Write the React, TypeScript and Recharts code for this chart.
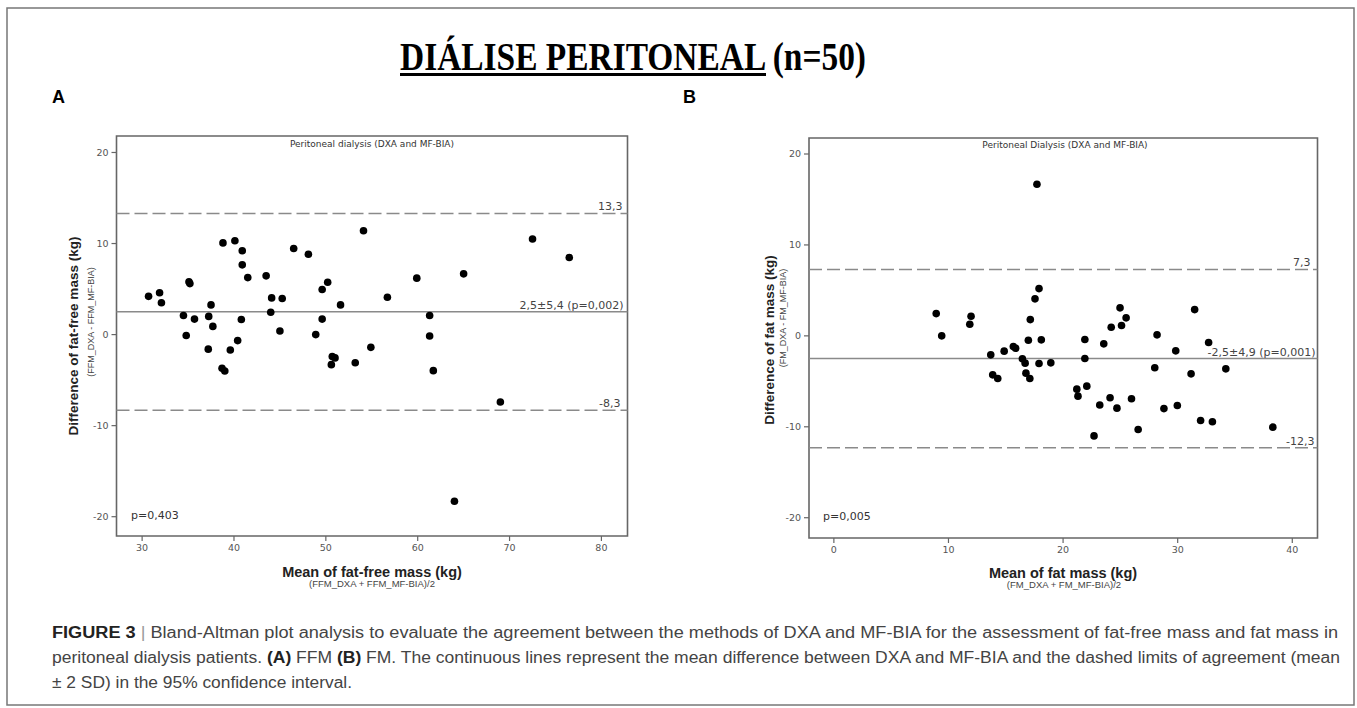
import React from "react";
import {
  ScatterChart,
  Scatter,
  XAxis,
  YAxis,
  ReferenceLine,
  ReferenceArea,
} from "recharts";

// Panel A: fat-free mass (mean of methods vs difference)
const ffmMean = [
  30.7, 31.9, 32.1, 34.5, 34.8, 35.1, 35.2, 35.7, 37.2, 37.25,
  37.5, 37.7, 38.7, 39.0, 38.8, 39.6, 40.1, 40.4, 40.8, 40.9,
  40.9, 41.5, 43.5, 44.0, 44.1, 45.0, 45.25, 46.5, 48.1, 48.9,
  49.6, 49.6, 50.2, 50.6, 50.7, 51.0, 51.6, 53.2, 54.1, 54.9,
  56.7, 59.9, 61.3, 61.3, 61.7, 65.0, 69.0, 72.5, 76.5, 64.0,
];
const ffmDiff = [
  4.2, 4.6, 3.5, 2.1, -0.1, 5.8, 5.6, 1.7, -1.6, 2.0,
  3.26, 0.9, -3.7, -4.0, 10.07, -1.7, 10.3, -0.66, 1.65, 9.2,
  7.66, 6.26, 6.45, 2.45, 4.03, 0.4, 3.96, 9.45, 8.83, 0.0,
  1.7, 4.95, 5.75, -3.3, -2.4, -2.56, 3.26, -3.1, 11.4, -1.4,
  4.1, 6.2, 2.1, -0.15, -3.96, 6.67, -7.4, 10.5, 8.46, -18.3,
];

// Panel B: fat mass
const fmMean = [
  8.93, 9.41, 11.86, 11.97, 13.69, 13.86, 14.3, 14.86, 15.66, 15.86,
  16.45, 16.69, 16.76, 16.97, 17.1, 17.14, 17.55, 17.72, 17.9, 17.9,
  18.1, 18.93, 21.2, 21.3, 21.9, 21.9, 22.07, 22.7, 23.2, 23.55,
  24.1, 24.2, 24.7, 24.97, 25.1, 25.5, 25.97, 26.55, 28.0, 28.2,
  28.8, 29.83, 29.97, 31.17, 31.48, 32.0, 32.7, 33.03, 34.2, 38.3,
];
const fmDiff = [
  2.45, 0.0, 1.28, 2.16, -2.09, -4.29, -4.69, -1.68, -1.17, -1.36,
  -2.53, -3.0, -4.1, -0.48, -4.69, 1.79, 4.07, 16.67, 5.2, -3.04,
  -0.44, -2.97, -5.86, -6.63, -0.4, -2.49, -5.53, -11.0, -7.6, -0.88,
  -6.8, 0.95, -7.95, 3.08, 1.14, 1.98, -6.92, -10.3, -3.5, 0.11,
  -8.0, -1.65, -7.66, -4.18, 2.89, -9.3, -0.73, -9.45, -3.63, -10.04,
];

const ffmXTicks = [30, 40, 50, 60, 70, 80];
const fmXTicks = [0, 10, 20, 30, 40];
const yTicks = [-20, -10, 0, 10, 20];

const ffmLines = [13.3, 2.5, -8.3];
const ffmLineLabels = ["13,3", "2,5±5,4 (p=0,002)", "-8,3"];
const fmLines = [7.3, -2.5, -12.3];
const fmLineLabels = ["7,3", "-2,5±4,9 (p=0,001)", "-12,3"];

const SPSS_FONT = "DejaVu Sans";

const lineLabel = (text: string, inset: number) => (props: any) => {
  const vb = props.viewBox || {};
  return (
    <text
      x={vb.x + vb.width - inset}
      y={vb.y - 3}
      textAnchor="end"
      fontSize={11}
      fill="#444"
      fontFamily={SPSS_FONT}
    >
      {text}
    </text>
  );
};

const dot = (p: any) => <circle cx={p.cx} cy={p.cy} r={3.8} fill="#000" />;

interface PanelProps {
  left: number;
  width: number;
  margin: { top: number; right: number; bottom: number; left: number };
  xs: number[];
  ys: number[];
  xDomain: [number, number];
  yDomain: [number, number];
  xTicks: number[];
  lines: number[];
  labels: string[];
  insets: number[];
}

function Panel({ left, width, margin, xs, ys, xDomain, yDomain, xTicks, lines, labels, insets }: PanelProps) {
  const data = xs.map((x, i) => ({ x, y: ys[i] }));
  const tick = { fontSize: 9.5, fill: "#555", fontFamily: SPSS_FONT };
  return (
    <div style={{ position: "absolute", left, top: 0 }}>
      <ScatterChart width={width} height={600} margin={margin}>
        <XAxis
          type="number"
          dataKey="x"
          domain={xDomain}
          ticks={xTicks}
          allowDataOverflow
          axisLine={false}
          tickLine={{ stroke: "#666", strokeWidth: 1.2 }}
          tickSize={5}
          tickMargin={3}
          height={20}
          tick={tick}
        />
        <YAxis
          type="number"
          dataKey="y"
          domain={yDomain}
          ticks={yTicks}
          allowDataOverflow
          axisLine={false}
          tickLine={{ stroke: "#666", strokeWidth: 1.2 }}
          tickSize={5}
          tickMargin={3}
          width={30}
          tick={tick}
        />
        <ReferenceArea
          x1={xDomain[0]}
          x2={xDomain[1]}
          y1={yDomain[0]}
          y2={yDomain[1]}
          fill="none"
          stroke="#666"
          strokeWidth={1.6}
          ifOverflow="visible"
        />
        {lines.map((v, i) => (
          <ReferenceLine
            key={i}
            y={v}
            stroke="#8a8a8a"
            strokeWidth={1.5}
            strokeDasharray={i === 1 ? undefined : "13 5"}
            label={lineLabel(labels[i], insets[i])}
          />
        ))}
        <Scatter data={data} shape={dot} isAnimationActive={false} />
      </ScatterChart>
    </div>
  );
}

export default function App() {
  const sans = "Liberation Sans";
  return (
    <div
      style={{
        position: "absolute",
        left: 0,
        top: 0,
        width: 1357,
        height: 708,
        background: "#fff",
        overflow: "hidden",
      }}
    >
      <Panel
        left={0}
        width={660}
        margin={{ top: 136, right: 32.5, bottom: 44, left: 86.5 }}
        xs={ffmMean}
        ys={ffmDiff}
        xDomain={[27.21, 82.84]}
        yDomain={[-22.12, 21.81]}
        xTicks={ffmXTicks}
        lines={ffmLines}
        labels={ffmLineLabels}
        insets={[5, 4, 7]}
      />
      <Panel
        left={680}
        width={680}
        margin={{ top: 138, right: 42.5, bottom: 42, left: 99 }}
        xs={fmMean}
        ys={fmDiff}
        xDomain={[-2.17, 42.2]}
        yDomain={[-22.23, 21.76]}
        xTicks={fmXTicks}
        lines={fmLines}
        labels={fmLineLabels}
        insets={[7, 2, 3]}
      />
      <svg
        width={1357}
        height={708}
        style={{ position: "absolute", left: 0, top: 0, pointerEvents: "none" }}
      >
        <rect x={7} y={8} width={1347} height={697} fill="none" stroke="#777" strokeWidth={1.5} />
        <text
          x={400}
          y={70}
          fontFamily="Liberation Serif"
          fontWeight="bold"
          fontSize={40}
          fill="#000"
          textLength={466}
          lengthAdjust="spacingAndGlyphs"
        >
          DIÁLISE PERITONEAL (n=50)
        </text>
        <rect x={400} y={73} width={366} height={3} fill="#000" />
        <text x={52} y={103} fontFamily={sans} fontWeight="bold" fontSize={18}>A</text>
        <text x={683} y={103} fontFamily={sans} fontWeight="bold" fontSize={18}>B</text>

        <text x={372} y={147} textAnchor="middle" fontFamily={SPSS_FONT} fontSize={9} fill="#333">
          Peritoneal dialysis (DXA and MF-BIA)
        </text>
        <text x={1065} y={148} textAnchor="middle" fontFamily={SPSS_FONT} fontSize={9} fill="#333">
          Peritoneal Dialysis (DXA and MF-BIA)
        </text>

        <text x={131} y={519} fontFamily={SPSS_FONT} fontSize={11} fill="#333">p=0,403</text>
        <text x={823} y={520} fontFamily={SPSS_FONT} fontSize={11} fill="#333">p=0,005</text>

        <text x={372} y={577} textAnchor="middle" fontFamily={sans} fontWeight="bold" fontSize={14.5} fill="#222">
          Mean of fat-free mass (kg)
        </text>
        <text x={372} y={587} textAnchor="middle" fontFamily={sans} fontSize={9.5} fill="#444">
          (FFM_DXA + FFM_MF-BIA)/2
        </text>
        <text x={1063} y={578} textAnchor="middle" fontFamily={sans} fontWeight="bold" fontSize={14.5} fill="#222">
          Mean of fat mass (kg)
        </text>
        <text x={1064} y={588} textAnchor="middle" fontFamily={sans} fontSize={9.5} fill="#444">
          (FM_DXA + FM_MF-BIA)/2
        </text>

        <text
          transform="translate(78 336) rotate(-90)"
          textAnchor="middle"
          fontFamily={sans}
          fontWeight="bold"
          fontSize={13.5}
          fill="#222"
        >
          Difference of fat-free mass (kg)
        </text>
        <text
          transform="translate(94 322) rotate(-90)"
          textAnchor="middle"
          fontFamily={sans}
          fontSize={9}
          fill="#444"
        >
          (FFM_DXA - FFM_MF-BIA)
        </text>
        <text
          transform="translate(774 340) rotate(-90)"
          textAnchor="middle"
          fontFamily={sans}
          fontWeight="bold"
          fontSize={13.5}
          fill="#222"
        >
          Difference of fat mass (kg)
        </text>
        <text
          transform="translate(786 318) rotate(-90)"
          textAnchor="middle"
          fontFamily={sans}
          fontSize={9}
          fill="#444"
        >
          (FM_DXA - FM_MF-BIA)
        </text>

        <g fontFamily={sans} fontSize={16} fill="#444">
          <text x={52} y={638} textLength={1286} lengthAdjust="spacingAndGlyphs">
            <tspan fontWeight="bold" fill="#222">FIGURE 3</tspan>
            <tspan fill="#999"> | </tspan>
            <tspan>
              Bland-Altman plot analysis to evaluate the agreement between the methods of DXA and MF-BIA for the assessment of fat-free mass and fat mass in
            </tspan>
          </text>
          <text x={52} y={663} textLength={1288} lengthAdjust="spacingAndGlyphs">
            <tspan>peritoneal dialysis patients. </tspan>
            <tspan fontWeight="bold" fill="#222">(A)</tspan>
            <tspan> FFM </tspan>
            <tspan fontWeight="bold" fill="#222">(B)</tspan>
            <tspan>
              {" "}FM. The continuous lines represent the mean difference between DXA and MF-BIA and the dashed limits of agreement (mean
            </tspan>
          </text>
          <text x={52} y={688} textLength={300} lengthAdjust="spacingAndGlyphs">
            ± 2 SD) in the 95% confidence interval.
          </text>
        </g>
      </svg>
    </div>
  );
}
